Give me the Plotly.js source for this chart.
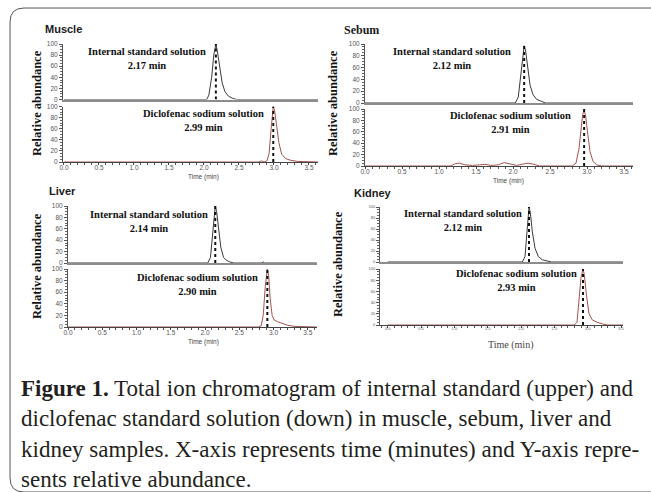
<!DOCTYPE html>
<html>
<head>
<meta charset="utf-8">
<script src="https://cdn.plot.ly/plotly-3.0.1.min.js"></script>
<style>
  html, body { margin: 0; padding: 0; background: #fff; }
  #chart { width: 651px; height: 492px; }
</style>
</head>
<body>
<div id="chart"></div>
<script>
// ---------------- DATA ----------------
const panelNames = ['Muscle', 'Sebum', 'Liver', 'Kidney'];
const isLabel = 'Internal standard solution';
const dsLabel = 'Diclofenac sodium solution';
const isTimesText = ['2.17 min', '2.12 min', '2.14 min', '2.12 min'];
const dsTimesText = ['2.99 min', '2.91 min', '2.90 min', '2.93 min'];
const isPeakPos = [2.17, 2.15, 2.15, 2.12];
const dsPeakPos = [2.99, 2.96, 2.91, 2.93];

const xTickVals = [0, 0.5, 1, 1.5, 2, 2.5, 3, 3.5];
const xTickText = ['0.0', '0.5', '1.0', '1.5', '2.0', '2.5', '3.0', '3.5'];
const yTickVals = [0, 20, 40, 60, 80, 100];
const yTickText = ['0', '20', '40', '60', '80', '100'];
const dotY = [0, 100];

// Muscle
const muscleIS_t = [0, 2.04, 2.07, 2.11, 2.14, 2.17, 2.19, 2.22, 2.26, 2.30, 2.35, 2.41, 2.47, 3.63];
const muscleIS_y = [0, 0, 8, 40, 80, 100, 88, 60, 30, 14, 6, 2, 0, 0];
const muscleDS_t = [0, 2.78, 2.82, 2.86, 2.90, 2.93, 2.96, 2.99, 3.01, 3.04, 3.07, 3.11, 3.17, 3.24, 3.34, 3.63];
const muscleDS_y = [0, 0, 2, 0, 2, 15, 60, 100, 92, 65, 35, 14, 6, 3, 1, 0];
// Sebum
const sebumIS_t = [0, 2.03, 2.07, 2.10, 2.13, 2.15, 2.17, 2.20, 2.23, 2.27, 2.32, 2.38, 2.44, 3.62];
const sebumIS_y = [0, 0, 10, 45, 85, 97, 88, 60, 30, 14, 6, 3, 0, 0];
const sebumDS_t = [0, 1.15, 1.22, 1.28, 1.35, 1.45, 1.55, 1.62, 1.70, 1.80, 1.88, 1.96, 2.05, 2.12, 2.20, 2.28, 2.36, 2.80, 2.85, 2.89, 2.92, 2.94, 2.96, 2.98, 3.01, 3.04, 3.08, 3.13, 3.20, 3.62];
const sebumDS_y = [0, 0, 4, 5, 2, 1, 2, 3, 1, 2, 6, 4, 1, 3, 5, 3, 0, 0, 5, 30, 70, 90, 98, 88, 55, 25, 8, 2, 0, 0];
// Liver
const liverIS_t = [0, 2.04, 2.08, 2.11, 2.13, 2.15, 2.17, 2.20, 2.23, 2.27, 2.31, 2.36, 2.42, 2.83, 2.85, 2.87, 3.63];
const liverIS_y = [0, 0, 10, 50, 88, 100, 90, 60, 28, 10, 5, 2, 0, 0, 2, 0, 0];
const liverDS_t = [0, 2.78, 2.82, 2.85, 2.88, 2.91, 2.93, 2.95, 2.98, 3.01, 3.06, 3.13, 3.21, 3.31, 3.63];
const liverDS_y = [0, 0, 2, 20, 70, 100, 88, 50, 20, 12, 9, 6, 3, 1, 0];
// Kidney
const kidneyIS_t = [0, 2.02, 2.06, 2.09, 2.11, 2.12, 2.14, 2.17, 2.21, 2.26, 2.32, 2.39, 2.46, 3.53];
const kidneyIS_y = [0, 0, 10, 50, 88, 100, 90, 55, 25, 10, 4, 2, 0, 0];
const kidneyDS_t = [0, 2.60, 2.70, 2.80, 2.84, 2.87, 2.90, 2.93, 2.95, 2.98, 3.02, 3.07, 3.14, 3.22, 3.30, 3.53];
const kidneyDS_y = [0, 0, 1, 0, 5, 40, 85, 100, 90, 55, 20, 9, 5, 2, 0, 0];

const isSeries = [[muscleIS_t, muscleIS_y], [sebumIS_t, sebumIS_y], [liverIS_t, liverIS_y], [kidneyIS_t, kidneyIS_y]];
const dsSeries = [[muscleDS_t, muscleDS_y], [sebumDS_t, sebumDS_y], [liverDS_t, liverDS_y], [kidneyDS_t, kidneyDS_y]];

// ---------------- LAYOUT GEOMETRY (pixels) ----------------
const W = 651, H = 492;
const fx = p => p / W;
const fy = p => 1 - p / H;

const geo = [
  { x: [63, 318], r: [-0.014, 3.629], up: [44, 99.5], lo: [106.5, 162], yfs: 6.5, xfs: 6.5,
    title: { x: 43, y: 29, fam: 'Arial, Liberation Sans', size: 11 }, ylab: { x: 37, y: 103 },
    tl: { x: 203, y: 176.5, fam: 'Arial, Liberation Sans', size: 6.5 }, is: { x: 147, y: 58 }, ds: { x: 204, y: 120 } },
  { x: [365, 633], r: [0, 3.62], up: [44, 103], lo: [109, 166], yfs: 6.5, xfs: 6.5,
    title: { x: 342, y: 30, fam: 'Liberation Serif, Times New Roman', size: 12 }, ylab: { x: 333, y: 103 },
    tl: { x: 508, y: 181, fam: 'Arial, Liberation Sans', size: 6.5 }, is: { x: 452, y: 58.5 }, ds: { x: 510, y: 122.5 } },
  { x: [68, 317], r: [0, 3.635], up: [206, 263], lo: [269, 327], yfs: 6.5, xfs: 6.5,
    title: { x: 47, y: 191, fam: 'Arial, Liberation Sans', size: 11 }, ylab: { x: 37, y: 266 },
    tl: { x: 203, y: 341.5, fam: 'Arial, Liberation Sans', size: 6.5 }, is: { x: 149, y: 222 }, ds: { x: 197, y: 284.5 } },
  { x: [380, 623], r: [-0.115, 3.53], up: [207, 262], lo: [269, 325], yfs: 4, xfs: 4,
    title: { x: 352, y: 193, fam: 'Arial, Liberation Sans', size: 11 }, ylab: { x: 338, y: 264 },
    tl: { x: 510, y: 345, fam: 'Liberation Serif, Times New Roman', size: 10 }, is: { x: 463, y: 220 }, ds: { x: 516, y: 280 } }
];

const traces = [];
const layout = {
  width: W, height: H,
  margin: { l: 0, r: 0, t: 0, b: 0 },
  paper_bgcolor: '#ffffff',
  plot_bgcolor: 'rgba(0,0,0,0)',
  showlegend: false,
  annotations: [],
  shapes: []
};

const serif = 'Liberation Serif, Times New Roman, serif';

geo.forEach((g, i) => {
  const nUp = 2 * i + 1, nLo = 2 * i + 2;
  const xid = n => (n === 1 ? 'x' : 'x' + n);
  const yid = n => (n === 1 ? 'y' : 'y' + n);
  const xkey = n => (n === 1 ? 'xaxis' : 'xaxis' + n);
  const ykey = n => (n === 1 ? 'yaxis' : 'yaxis' + n);
  const xDom = [fx(g.x[0]), fx(g.x[1])];

  const yAxisBase = {
    range: [0, 100], showgrid: false, zeroline: false, fixedrange: true,
    showline: true, linecolor: '#555', linewidth: 1,
    ticks: 'outside', ticklen: 3, tickwidth: 1, tickcolor: '#555',
    tickmode: 'array', tickvals: yTickVals, ticktext: yTickText,
    tickfont: { family: 'Arial, Liberation Sans', size: g.yfs, color: '#555' },
    minor: { tickmode: 'linear', tick0: 0, dtick: 5, ticks: 'outside', ticklen: 2, tickcolor: '#666' }
  };
  layout[ykey(nUp)] = Object.assign({}, yAxisBase, { domain: [fy(g.up[1]), fy(g.up[0])], anchor: xid(nUp) });
  layout[ykey(nLo)] = Object.assign({}, yAxisBase, { domain: [fy(g.lo[1]), fy(g.lo[0])], anchor: xid(nLo) });

  layout[xkey(nUp)] = {
    domain: xDom, range: g.r, anchor: yid(nUp), showgrid: false, zeroline: false,
    showline: true, linecolor: '#8c8c8c', linewidth: 2, ticks: '', showticklabels: false, fixedrange: true
  };
  layout[xkey(nLo)] = {
    domain: xDom, range: g.r, anchor: yid(nLo), showgrid: false, zeroline: false,
    showline: true, linecolor: '#444', linewidth: 1,
    ticks: 'outside', ticklen: 2, tickwidth: 1, tickcolor: '#444',
    tickmode: 'array', tickvals: xTickVals, ticktext: xTickText,
    ticklabelstandoff: -3,
    tickfont: { family: 'Arial, Liberation Sans', size: g.xfs, color: '#555' },
    minor: { tickmode: 'linear', tick0: 0, dtick: 0.1, ticks: 'outside', ticklen: 2, tickcolor: '#555' },
    fixedrange: true
  };

  // traces
  traces.push({ type: 'scatter', mode: 'lines', x: isSeries[i][0], y: isSeries[i][1],
    xaxis: xid(nUp), yaxis: yid(nUp), line: { color: '#3a3a3a', width: 1 }, cliponaxis: false, hoverinfo: 'skip' });
  traces.push({ type: 'scatter', mode: 'lines', x: [isPeakPos[i], isPeakPos[i]], y: dotY,
    xaxis: xid(nUp), yaxis: yid(nUp), line: { color: '#111', width: 2, dash: 'dot' }, cliponaxis: false, hoverinfo: 'skip' });
  traces.push({ type: 'scatter', mode: 'lines', x: dsSeries[i][0], y: dsSeries[i][1],
    xaxis: xid(nLo), yaxis: yid(nLo), line: { color: '#a3544f', width: 1 }, cliponaxis: false, hoverinfo: 'skip' });
  traces.push({ type: 'scatter', mode: 'lines', x: [dsPeakPos[i], dsPeakPos[i]], y: dotY,
    xaxis: xid(nLo), yaxis: yid(nLo), line: { color: '#111', width: 2, dash: 'dot' }, cliponaxis: false, hoverinfo: 'skip' });

  // annotations
  layout.annotations.push({ xref: 'paper', yref: 'paper', x: fx(g.title.x), y: fy(g.title.y), xanchor: 'left', yanchor: 'middle',
    text: '<b>' + panelNames[i] + '</b>', showarrow: false, font: { family: g.title.fam, size: g.title.size, color: '#1a1a1a' } });
  layout.annotations.push({ xref: 'paper', yref: 'paper', x: fx(g.ylab.x), y: fy(g.ylab.y), xanchor: 'center', yanchor: 'middle',
    text: '<b>Relative abundance</b>', textangle: -90, showarrow: false, font: { family: serif, size: 12.5, color: '#111' } });
  layout.annotations.push({ xref: 'paper', yref: 'paper', x: fx(g.tl.x), y: fy(g.tl.y), xanchor: 'center', yanchor: 'middle',
    text: 'Time (min)', showarrow: false, font: { family: g.tl.fam, size: g.tl.size, color: '#444' } });
  layout.annotations.push({ xref: 'paper', yref: 'paper', x: fx(g.is.x), y: fy(g.is.y), xanchor: 'center', yanchor: 'middle',
    text: '<b>' + isLabel + '<br>' + isTimesText[i] + '</b>', showarrow: false, align: 'center',
    font: { family: serif, size: 10.5, color: '#111' } });
  layout.annotations.push({ xref: 'paper', yref: 'paper', x: fx(g.ds.x), y: fy(g.ds.y), xanchor: 'center', yanchor: 'middle',
    text: '<b>' + dsLabel + '<br>' + dsTimesText[i] + '</b>', showarrow: false, align: 'center',
    font: { family: serif, size: 10.5, color: '#111' } });
});

// caption lines
const captionLines = [
  '<b>Figure 1.</b> Total ion chromatogram of internal standard (upper) and',
  'diclofenac standard solution (down) in muscle, sebum, liver and',
  'kidney samples. X-axis represents time (minutes) and Y-axis repre-',
  'sents relative abundance.'
];
const captionY = [388, 418, 449, 479];
captionLines.forEach((t, k) => {
  layout.annotations.push({ xref: 'paper', yref: 'paper', x: fx(19), y: fy(captionY[k]), xanchor: 'left', yanchor: 'middle',
    text: t, showarrow: false, align: 'left', font: { family: serif, size: 23, color: '#231f20' } });
});

// rounded frame
const P = (x, y) => fx(x).toFixed(4) + ',' + fy(y).toFixed(4);
layout.shapes.push({
  type: 'path', xref: 'paper', yref: 'paper',
  path: 'M ' + P(660, 8) + ' L ' + P(24, 8) + ' Q ' + P(10, 8) + ' ' + P(10, 22) +
        ' L ' + P(10, 478) + ' Q ' + P(10, 492) + ' ' + P(24, 492) + ' L ' + P(660, 492),
  line: { color: '#555', width: 1 }
});

Plotly.newPlot('chart', traces, layout, { staticPlot: true, displayModeBar: false });
</script>
</body>
</html>
